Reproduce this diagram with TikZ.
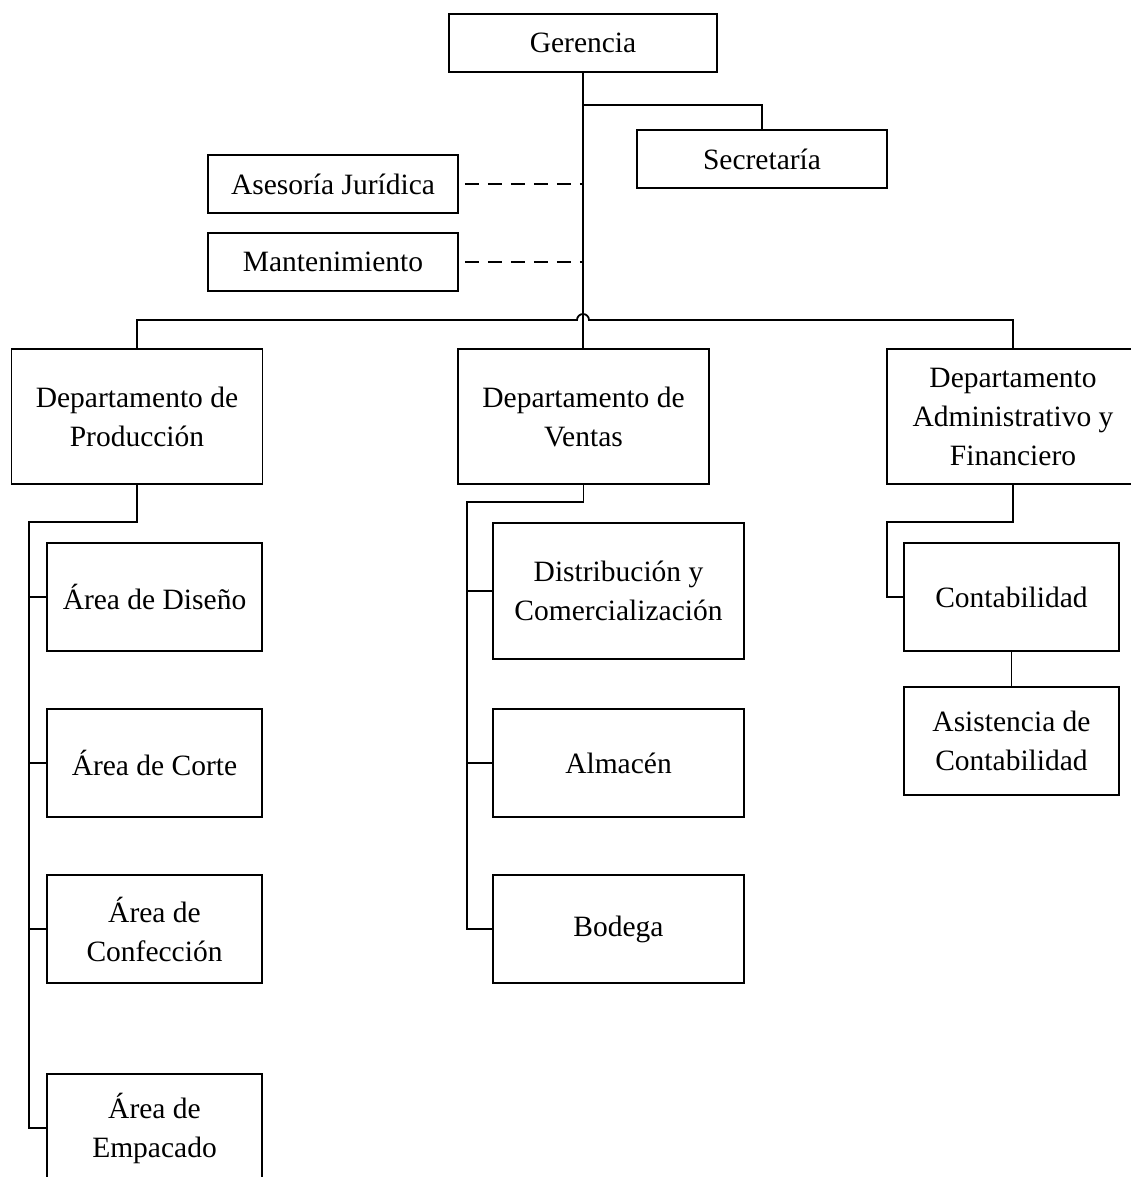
\documentclass[tikz,border=0pt]{standalone}
\usepackage{fontspec}
\setmainfont{Liberation Serif}
\begin{document}
\begin{tikzpicture}[x=1pt,y=-1pt,
  orgbox/.style={draw, line width=1.8pt, inner sep=0pt, align=center,
    font=\fontsize{29.5}{39}\selectfont},
  link/.style={line width=1.8pt},
  dlink/.style={line width=1.8pt, dash pattern=on 14pt off 9pt, shorten <=6pt}]
\clip (0,0) rectangle (1131,1177);
\fill[white] (0,0) rectangle (1131,1177);
% top level
\node[orgbox, minimum width=268pt, minimum height=58pt] (ger) at (583,43) {Gerencia};
\node[orgbox, minimum width=250pt, minimum height=58pt] (sec) at (762,159) {Secretaría};
\node[orgbox, minimum width=250pt, minimum height=58pt] (ase) at (333,184) {Asesoría Jurídica};
\node[orgbox, minimum width=250pt, minimum height=58pt] (man) at (333,262) {Mantenimiento};
% departments
\node[orgbox, minimum width=251pt, minimum height=135pt] (prod) at (137,416.5) {Departamento de\\Producción};
\node[orgbox, minimum width=251pt, minimum height=135pt] (ven) at (583.5,416.5) {Departamento de\\Ventas};
\node[orgbox, minimum width=252pt, minimum height=135pt] (adm) at (1013,416.5) {Departamento\\Administrativo y\\Financiero};
% production
\node[orgbox, minimum width=215pt, minimum height=108pt] (dis) at (154.5,597) {Área de Diseño};
\node[orgbox, minimum width=215pt, minimum height=108pt] (cor) at (154.5,763) {Área de Corte};
\node[orgbox, minimum width=215pt, minimum height=108pt] (con) at (154.5,929) {Área de\\Confección};
\node[orgbox, minimum width=215pt, minimum height=108pt] (emp) at (154.5,1128) {Área de\\Empacado};
% sales
\node[orgbox, minimum width=251pt, minimum height=136pt] (dist) at (618.5,591) {Distribución y\\Comercialización};
\node[orgbox, minimum width=251pt, minimum height=108pt] (alm) at (618.5,763) {Almacén};
\node[orgbox, minimum width=251pt, minimum height=108pt] (bod) at (618.5,929) {Bodega};
% admin
\node[orgbox, minimum width=215pt, minimum height=108pt] (cont) at (1011.5,597) {Contabilidad};
\node[orgbox, minimum width=215pt, minimum height=108pt] (asi) at (1011.5,741) {Asistencia de\\Contabilidad};
% junction coordinates
\coordinate (jsec) at (583,105);
\coordinate (hopL) at (577,320);
\coordinate (hopR) at (589,320);
\coordinate (pl) at (29,522);
\coordinate (vl) at (467,502);
\coordinate (al) at (887,522);
% main trunk
\draw[link] (ger.south) -- (ger.south |- ven.north);
\draw[link] (jsec) -| (sec.north);
\draw[dlink] (ase.east) -- (ase.east -| ger.south);
\draw[dlink] (man.east) -- (man.east -| ger.south);
\draw[link] (prod.north) |- (hopL) arc[start angle=180, end angle=0, radius=6pt] -- (hopR -| adm.north) -- (adm.north);
% production branch
\draw[link] (prod.south) |- (pl) |- (emp.west);
\foreach \n in {dis,cor,con} \draw[link] (pl |- \n.west) -- (\n.west);
% sales branch
\draw[link] (ven.south) |- (vl) |- (bod.west);
\foreach \n in {dist,alm} \draw[link] (vl |- \n.west) -- (\n.west);
% admin branch
\draw[link] (adm.south) |- (al) |- (cont.west);
\draw[link] (cont.south) -- (asi.north);
\end{tikzpicture}
\end{document}
